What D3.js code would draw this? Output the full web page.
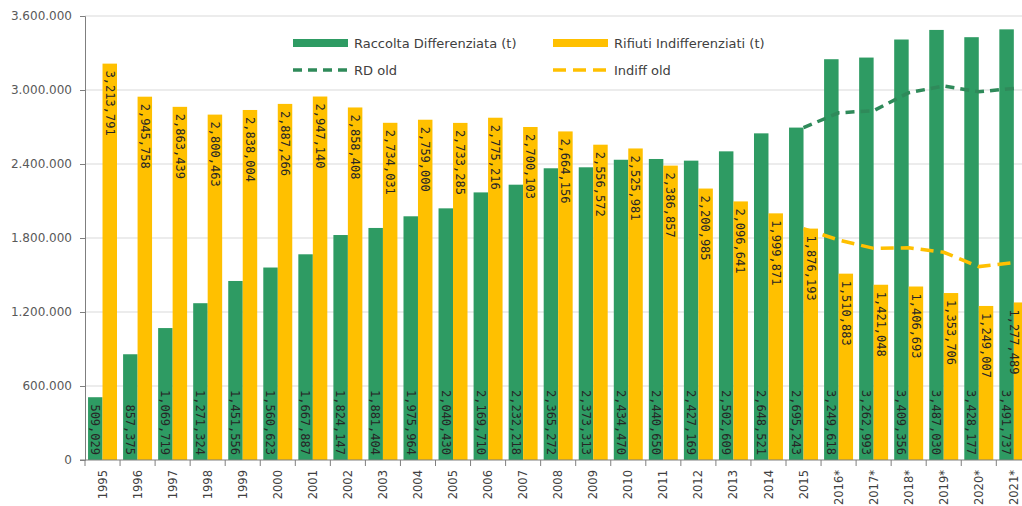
<!DOCTYPE html>
<html><head><meta charset="utf-8">
<script src="https://cdn.jsdelivr.net/npm/d3@7"></script>
<style>
html,body{margin:0;padding:0;background:#fff;overflow:hidden}
svg{display:block}
</style></head>
<body>
<svg id="chart" width="1022" height="506"></svg>
<script>
const years = ["1995","1996","1997","1998","1999","2000","2001","2002","2003","2004","2005","2006","2007","2008","2009","2010","2011","2012","2013","2014","2015","2016*","2017*","2018*","2019*","2020*","2021*"];
const raccoltaDiff = [509029,857375,1069719,1271324,1451556,1560623,1667887,1824147,1881404,1975964,2040430,2169710,2232218,2365272,2373313,2434470,2440650,2427169,2502609,2648521,2695243,3249618,3262993,3409356,3487030,3428177,3491737];
const rifiutiIndiff = [3213791,2945758,2863439,2800463,2838004,2887266,2947140,2858408,2734031,2759000,2733285,2775216,2700103,2664156,2556572,2525981,2386857,2200985,2096641,1999871,1876193,1510883,1421048,1406693,1353706,1249007,1277489];
const rdOldYears = ["2015","2016*","2017*","2018*","2019*","2020*","2021*"];
const rdOld = [2695243,2815000,2832000,2978000,3032000,2986000,3013000];
const indiffOldYears = ["2015","2016*","2017*","2018*","2019*","2020*","2021*"];
const indiffOld = [1876193,1784000,1716000,1721000,1684000,1568000,1600000];
const yTicks = [0,600000,1200000,1800000,2400000,3000000,3600000];
const legendLabels = ["Raccolta Differenziata (t)","Rifiuti Indifferenziati (t)","RD old","Indiff old"];

const GREEN = "#2E9B63", YELLOW = "#FFC000", LINEGREEN = "#2F8A5A", LINEYELLOW = "#FFC000";
const W = 1022;
const svg = d3.select("#chart");
const x0 = 85, bw = 35.05, yTop = 16, yBot = 460;
const x = d3.scaleBand().domain(years).range([x0, x0 + bw*years.length]).padding(0);
const xs = d3.scaleBand().domain(["rd","ind"]).range([0, x.bandwidth()]).paddingInner(0).paddingOuter(0.21);
const y = d3.scaleLinear().domain([0,3600000]).range([yBot, yTop]);

const itFmt = d3.formatLocale({decimal:",",thousands:".",grouping:[3],currency:["",""]}).format(",d");
const enFmt = d3.format(",d");

// gridlines
svg.append("g").selectAll("line").data(yTicks.filter(d=>d>0)).join("line")
  .attr("x1", x0).attr("x2", W).attr("y1", d=>y(d)).attr("y2", d=>y(d))
  .attr("stroke", "#d9d9d9").attr("stroke-width", 1);

// y axis
const yAxis = d3.axisLeft(y).tickValues(yTicks).tickFormat(itFmt).tickSize(5).tickPadding(8);
const gy = svg.append("g").attr("transform", `translate(${x0},0)`).call(yAxis);
gy.select(".domain").attr("stroke", "#7f7f7f");
gy.selectAll(".tick line").attr("stroke", "#7f7f7f");
gy.selectAll("text").attr("font-family","DejaVu Sans").attr("font-size","12px").attr("fill","#595959");

// bars
const bars = svg.append("g");
bars.selectAll("rect.rd").data(years).join("rect").attr("class","rd")
  .attr("x", (d)=>x(d)+xs("rd")).attr("width", xs.bandwidth())
  .attr("y", (d,i)=>y(raccoltaDiff[i])).attr("height", (d,i)=>yBot - y(raccoltaDiff[i]))
  .attr("fill", GREEN);
bars.selectAll("rect.ind").data(years).join("rect").attr("class","ind")
  .attr("x", (d)=>x(d)+xs("ind")).attr("width", xs.bandwidth())
  .attr("y", (d,i)=>y(rifiutiIndiff[i])).attr("height", (d,i)=>yBot - y(rifiutiIndiff[i]))
  .attr("fill", YELLOW);

// x axis
const xAxis = d3.axisBottom(x).tickSize(0).tickPadding(0);
const gx = svg.append("g").attr("transform", `translate(0,${yBot})`).call(xAxis);
gx.select(".domain").remove();
svg.append("line").attr("x1", x0-5).attr("x2", W).attr("y1", yBot).attr("y2", yBot)
  .attr("stroke", "#7f7f7f");
svg.append("g").selectAll("line").data(years).join("line")
  .attr("x1", d=>x(d)).attr("x2", d=>x(d)).attr("y1", yBot).attr("y2", yBot+6)
  .attr("stroke", "#7f7f7f");
gx.selectAll(".tick text")
  .attr("transform", "translate(0,10) rotate(-90)")
  .attr("text-anchor", "end").attr("dy", "0.35em").attr("x", 0).attr("y", 0)
  .attr("font-family","DejaVu Sans").attr("font-size","11.5px").attr("fill","#404040");

// value labels
const lbl = svg.append("g").attr("font-family","DejaVu Sans Mono").attr("font-size","12px").attr("fill","#262626");
lbl.selectAll("text.rd").data(years).join("text").attr("class","rd")
  .attr("transform", (d)=>`translate(${Math.min(W-8, x(d)+xs("rd")+xs.bandwidth()/2)},${yBot-5}) rotate(90)`)
  .attr("text-anchor","end").attr("dy","0.35em")
  .text((d,i)=>enFmt(raccoltaDiff[i]));
lbl.selectAll("text.ind").data(years).join("text").attr("class","ind")
  .attr("transform", (d,i)=>`translate(${Math.min(W-8, x(d)+xs("ind")+xs.bandwidth()/2)},${y(rifiutiIndiff[i])+7}) rotate(90)`)
  .attr("text-anchor","start").attr("dy","0.35em")
  .text((d,i)=>enFmt(rifiutiIndiff[i]));

// old lines
const line = d3.line().x(d=>x(d[0])+x.bandwidth()/2).y(d=>y(d[1]));
svg.append("path").datum(rdOldYears.map((d,i)=>[d,rdOld[i]]))
  .attr("d", line).attr("fill","none").attr("stroke", LINEGREEN).attr("stroke-width",3.5)
  .attr("stroke-dasharray","9,6");
svg.append("path").datum(indiffOldYears.map((d,i)=>[d,indiffOld[i]]))
  .attr("d", line).attr("fill","none").attr("stroke", LINEYELLOW).attr("stroke-width",3.5)
  .attr("stroke-dasharray","13,7");

// legend
const lg = svg.append("g").attr("font-family","DejaVu Sans").attr("font-size","13px").attr("fill","#404040");
const legendPos = [[293,43],[553,43],[293,70],[553,70]];
lg.append("rect").attr("x",legendPos[0][0]).attr("y",legendPos[0][1]-4).attr("width",55).attr("height",8).attr("fill",GREEN);
lg.append("rect").attr("x",legendPos[1][0]).attr("y",legendPos[1][1]-4).attr("width",55).attr("height",8).attr("fill",YELLOW);
lg.append("line").attr("x1",legendPos[2][0]).attr("x2",legendPos[2][0]+55).attr("y1",legendPos[2][1]).attr("y2",legendPos[2][1])
  .attr("stroke",LINEGREEN).attr("stroke-width",3.5).attr("stroke-dasharray","9,6");
lg.append("line").attr("x1",legendPos[3][0]).attr("x2",legendPos[3][0]+55).attr("y1",legendPos[3][1]).attr("y2",legendPos[3][1])
  .attr("stroke",LINEYELLOW).attr("stroke-width",3.5).attr("stroke-dasharray","13,7");
lg.selectAll("text").data(legendLabels).join("text")
  .attr("x",(d,i)=>legendPos[i][0]+61).attr("y",(d,i)=>legendPos[i][1]).attr("dy","0.35em")
  .text(d=>d);
</script>
</body></html>
